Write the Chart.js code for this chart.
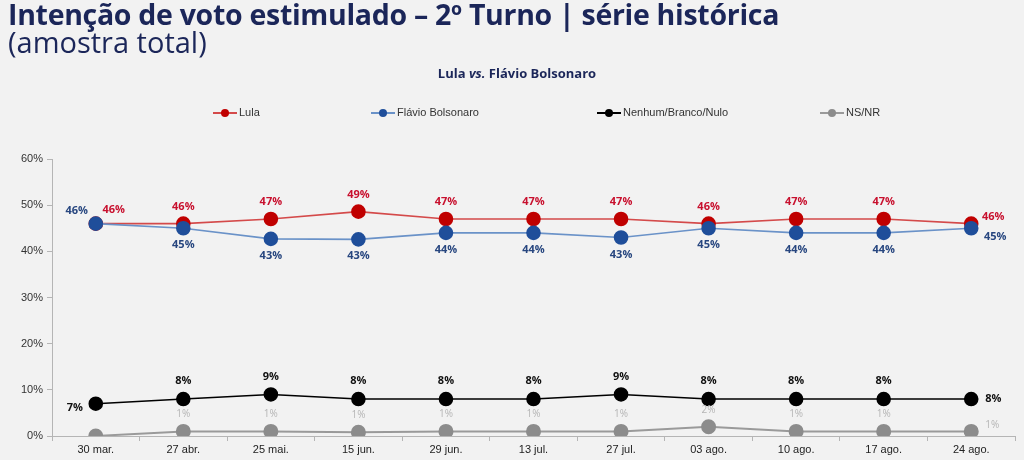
<!DOCTYPE html>
<html>
<head>
<meta charset="utf-8">
<script src="https://cdn.jsdelivr.net/npm/chart.js@4"></script>
<style>
  html, body { margin: 0; padding: 0; background: #f2f2f2; }
  #wrap { position: relative; width: 1024px; height: 460px; overflow: hidden; }
  #chart { position: absolute; left: 0; top: 0; }
  .title { position: absolute; left: 8px; color: #1b2659; font-family: "Open Sans", sans-serif; white-space: nowrap; }
  #t1 { top: -2px; font-size: 28.5px; line-height: 32px; font-weight: 700; letter-spacing: -0.3px; }
  #t2 { top: 26px; font-size: 29px; line-height: 32px; font-weight: 400; }
  #sub { position: absolute; left: 0; width: 1034px; top: 64px; text-align: center; color: #1b2659; font-family: "Open Sans", sans-serif; font-weight: 700; font-size: 13px; }
  .leg { position: absolute; top: 106px; font-family: "Liberation Sans", Arial, sans-serif; font-size: 11px; color: #333; white-space: nowrap; }
  .leg i { display: inline-block; position: relative; width: 24px; height: 2px; vertical-align: middle; margin-right: 2px; }
  .leg i b { position: absolute; left: 8px; top: -3px; width: 8px; height: 8px; border-radius: 50%; }
</style>
</head>
<body>
<div id="wrap">
  <canvas id="chart" width="1024" height="460"></canvas>
  <div class="title" id="t1">Intenção de voto estimulado – 2º Turno | série histórica</div>
  <div class="title" id="t2">(amostra total)</div>
  <div id="sub">Lula <i>vs.</i> Flávio Bolsonaro</div>
  <div id="legend"></div>
</div>
<script>
// categories and values
const dates = ['30 mar.', '27 abr.', '25 mai.', '15 jun.', '29 jun.', '13 jul.', '27 jul.', '03 ago.', '10 ago.', '17 ago.', '24 ago.'];
const lula = [46, 46, 47, 48.6, 47, 47, 47, 46, 47, 47, 46];
const flavio = [46, 45, 42.7, 42.6, 44, 44, 43, 45, 44, 44, 45];
const nenhum = [7, 8, 9, 8, 8, 8, 9, 8, 8, 8, 8];
const nsnr = [0, 1, 1, 0.8, 1, 1, 1, 2, 1, 1, 1];
const yTicks = [0, 10, 20, 30, 40, 50, 60];

const seriesNames = ['Lula', 'Flávio Bolsonaro', 'Nenhum/Branco/Nulo', 'NS/NR'];
const markerColors = ['#c00000', '#1f4e9a', '#000000', '#8c8c8c'];
const lineColors = ['#d44a4a', '#6a92c8', '#000000', '#9a9a9a'];
const labelColors = ['#c8102e', '#27467f', '#111111', '#b5b5b5'];

// legend (positions as in the picture)
const legX = [213, 371, 597, 820];
const legendDiv = document.getElementById('legend');
seriesNames.forEach((name, i) => {
    const d = document.createElement('div');
    d.className = 'leg';
    d.style.left = legX[i] + 'px';
    d.innerHTML = '<i style="background:' + lineColors[i] + '"><b style="background:' + markerColors[i] + '"></b></i>' + name;
    legendDiv.appendChild(d);
});

// where each series puts its value labels: [dx, dy] for first, middle, last point (null = no label)
const labelPlace = [
    { first: [18, -14], mid: [0, -17], last: [22, -7] },
    { first: [-19, -13], mid: [0, 17], last: [24, 9] },
    { first: [-21, 4], mid: [0, -18], last: [22, 0] },
    { first: null, mid: [0, -17], last: [21, -6] }
];

const valueLabels = {
    id: 'valueLabels',
    afterDatasetsDraw(chart) {
        const ctx = chart.ctx;
        ctx.save();
        ctx.textAlign = 'center';
        ctx.textBaseline = 'middle';
        chart.data.datasets.forEach((ds, i) => {
            const meta = chart.getDatasetMeta(i);
            ctx.fillStyle = labelColors[i];
            ctx.font = (i === 3 ? '400 10px' : '700 11px') + ' "Open Sans", sans-serif';
            meta.data.forEach((pt, j) => {
                let p = labelPlace[i].mid;
                if (j === 0) p = labelPlace[i].first;
                if (j === meta.data.length - 1) p = labelPlace[i].last;
                if (!p) return;
                ctx.fillText(Math.round(ds.data[j]) + '%', pt.x + p[0], pt.y + p[1]);
            });
        });
        ctx.restore();
    }
};

const allSeries = [lula, flavio, nenhum, nsnr];
const drawOrder = [1, 0, 2, 3];

new Chart(document.getElementById('chart'), {
    type: 'line',
    data: {
        labels: dates,
        datasets: allSeries.map((vals, i) => ({
            label: seriesNames[i],
            data: vals,
            borderColor: lineColors[i],
            backgroundColor: markerColors[i],
            pointBackgroundColor: markerColors[i],
            pointBorderColor: markerColors[i],
            pointRadius: 6.5,
            pointHoverRadius: 6.5,
            borderWidth: i === 3 ? 2 : 1.6,
            tension: 0,
            order: drawOrder[i]
        }))
    },
    options: {
        responsive: false,
        animation: false,
        layout: { padding: { top: 159, right: 9, bottom: 0, left: 0 } },
        plugins: {
            legend: { display: false },
            tooltip: { enabled: false }
        },
        scales: {
            x: {
                offset: true,
                grid: { display: true, drawOnChartArea: false, offset: true, tickLength: 5, color: '#b5b5b5' },
                border: { color: '#b5b5b5', width: 1 },
                ticks: { color: '#222', font: { family: 'Liberation Sans', size: 11 }, padding: 2, maxRotation: 0 },
                afterFit(scale) { scale.height = 24; }
            },
            y: {
                min: 0,
                max: 60,
                afterBuildTicks(scale) { scale.ticks = yTicks.map(v => ({ value: v })); },
                grid: { display: true, drawOnChartArea: false, tickLength: 5, color: '#b5b5b5' },
                border: { color: '#b5b5b5', width: 1 },
                ticks: { color: '#333', font: { family: 'Liberation Sans', size: 11 }, padding: 4, callback: v => v + '%' },
                afterFit(scale) { scale.width = 52; }
            }
        }
    },
    plugins: [valueLabels]
});
</script>
</body>
</html>
